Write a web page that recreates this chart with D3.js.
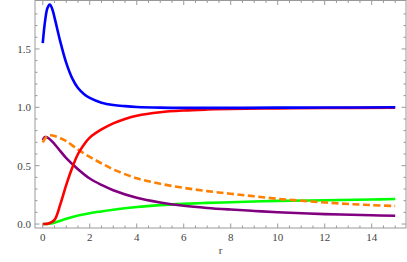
<!DOCTYPE html>
<html><head><meta charset="utf-8">
<script src="https://cdn.jsdelivr.net/npm/d3@7"></script>
<style>html,body{margin:0;padding:0;background:#fff;}svg{display:block;}</style>
</head><body>
<svg id="c" width="407" height="262"></svg>
<script>
// Data
const blueR   = [0,0.1,0.2,0.3,0.4,0.5,0.75,1.0,1.25,1.5,1.75,2.0,2.5,3,3.5,4,5,6,8,10,12,15];
const blueV   = [1.55,1.74,1.85,1.88,1.845,1.77,1.56,1.38,1.25,1.165,1.115,1.08,1.04,1.02,1.01,1.003,0.997,0.995,0.995,0.997,0.998,1.0];
const redR    = [0,0.25,0.5,0.75,1.0,1.25,1.5,1.75,2.0,2.5,3,3.5,4,5,6,7,8,10,12,15];
const redV    = [0,0.004,0.035,0.17,0.335,0.48,0.6,0.68,0.74,0.81,0.862,0.9,0.928,0.958,0.973,0.981,0.986,0.991,0.994,0.997];
const purpleR = [0,0.1,0.25,0.5,0.75,1.0,1.5,2.0,2.5,3,4,5,6,7,8,9,10,12,14,15];
const purpleV = [0.72,0.745,0.735,0.685,0.625,0.565,0.47,0.39,0.335,0.29,0.225,0.185,0.157,0.138,0.124,0.112,0.101,0.085,0.075,0.071];
const orangeR = [0,0.15,0.3,0.5,0.75,1.0,1.5,2,2.5,3,4,5,6,7,8,9,10,11,12,13,14,15];
const orangeV = [0.70,0.745,0.76,0.755,0.735,0.71,0.638,0.575,0.52,0.468,0.392,0.345,0.31,0.282,0.259,0.238,0.216,0.2,0.185,0.172,0.162,0.154];
const greenR  = [0,0.25,0.5,0.75,1,1.5,2,2.5,3,4,5,6,7,8,9,10,12,14,15];
const greenV  = [0,0.002,0.012,0.028,0.045,0.073,0.093,0.108,0.122,0.146,0.162,0.173,0.181,0.187,0.193,0.198,0.204,0.21,0.214];
const xTickLabels = [0,2,4,6,8,10,12,14];
const yTickLabels = ["0.0","0.5","1.0","1.5"];
const xLabel = "r";

const series = [
  {r: greenR,  v: greenV,  color: "#00ff00", dash: null},
  {r: purpleR, v: purpleV, color: "#800080", dash: null},
  {r: orangeR, v: orangeV, color: "#ff8000", dash: "7,3.5"},
  {r: redR,    v: redV,    color: "#ff0000", dash: null},
  {r: blueR,   v: blueV,   color: "#0000ff", dash: null}
];

const svg = d3.select("#c");
const L = 35, R = 406, T = 0.5, B = 228;
const x = d3.scaleLinear().domain([-0.33, 15.46]).range([L, R]);
const y = d3.scaleLinear().domain([-0.034, 1.915]).range([B, T]);

svg.append("clipPath").attr("id", "clip").append("rect")
  .attr("x", L).attr("y", T).attr("width", R - L).attr("height", B - T);

const line = d3.line().curve(d3.curveCatmullRom.alpha(0.5)).x(d => x(d[0])).y(d => y(d[1]));
const g = svg.append("g").attr("clip-path", "url(#clip)");
series.forEach(s => {
  g.append("path")
    .attr("d", line(s.r.map((r, i) => [r, s.v[i]])))
    .attr("fill", "none").attr("stroke", s.color).attr("stroke-width", 2.6)
    .attr("stroke-dasharray", s.dash).attr("stroke-linecap", "butt");
});

// Frame
const frameColor = "#999";
svg.append("rect").attr("x", L).attr("y", T).attr("width", R - L).attr("height", B - T)
  .attr("fill", "none").attr("stroke", frameColor).attr("stroke-width", 1);

const tk = svg.append("g").attr("stroke", frameColor).attr("stroke-width", 1);
d3.range(0, 15.01, 0.5).forEach(v => {
  const major = Math.abs(v / 2 - Math.round(v / 2)) < 1e-6;
  const len = major ? 4.5 : 2.5;
  const px = x(v);
  tk.append("line").attr("x1", px).attr("x2", px).attr("y1", B).attr("y2", B - len);
  tk.append("line").attr("x1", px).attr("x2", px).attr("y1", T).attr("y2", T + len);
});
d3.range(0, 19).forEach(i => {
  const v = i / 10;
  const major = i % 5 === 0;
  const len = major ? 4.5 : 2.5;
  const py = y(v);
  tk.append("line").attr("x1", L).attr("x2", L + len).attr("y1", py).attr("y2", py);
  tk.append("line").attr("x1", R).attr("x2", R - len).attr("y1", py).attr("y2", py);
});

const font = "'Liberation Serif','DejaVu Serif',serif";
const lab = svg.append("g").attr("font-family", font).attr("font-size", 11).attr("fill", "#444");
xTickLabels.forEach(v => {
  lab.append("text").attr("x", x(v)).attr("y", B + 13).attr("text-anchor", "middle").text(v);
});
yTickLabels.forEach(t => {
  lab.append("text").attr("x", L - 4).attr("y", y(+t) + 4).attr("text-anchor", "end").text(t);
});
lab.append("text").attr("x", (L + R) / 2).attr("y", 254).attr("text-anchor", "middle").text(xLabel);
</script>
</body></html>
